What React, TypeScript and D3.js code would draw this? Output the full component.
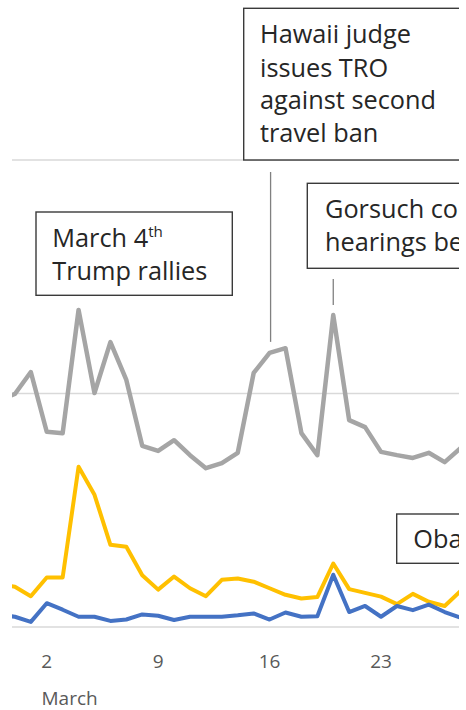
import React from "react";
import * as d3 from "d3";

// Day of March (0 = Feb 28, -1 = Feb 27)
const days = [-1,0,1,2,3,4,5,6,7,8,9,10,11,12,13,14,15,16,17,18,19,20,21,22,23,24,25,26,27,28,29];
const grayValues = [48.6,49.9,54.6,41.8,41.5,67.9,50.1,61.0,52.9,38.8,37.7,40.0,36.8,34.0,35.1,37.3,54.4,58.7,59.7,41.5,36.8,66.8,44.3,42.8,37.5,36.8,36.2,37.3,35.3,38.3,40.0];
const yellowValues = [9.2,8.6,6.6,10.6,10.6,34.3,28.3,17.6,17.2,11.1,8.0,10.8,8.3,6.6,10.1,10.4,9.7,8.3,6.9,6.1,6.4,13.6,8.1,7.3,6.5,4.9,7.1,5.4,4.5,7.7,9.0];
const blueValues = [2.6,2.2,1.1,5.1,3.7,2.2,2.2,1.3,1.6,2.7,2.4,1.5,2.2,2.2,2.2,2.5,2.9,1.6,3.1,2.2,2.3,11.2,3.2,4.5,2.2,4.5,3.6,4.8,3.2,2.0,1.7];
const tickDays = [2, 9, 16, 23];
const gridValues = [0, 50, 100];
const monthLabel = "March";

const FONT = "'Open Sans', 'Noto Sans', sans-serif";

export default function App() {
  const x = d3.scaleLinear().domain([0, 28]).range([14.9, 460.6]);
  const y = d3.scaleLinear().domain([0, 100]).range([627, 160]);
  const line = (vals: number[]) =>
    d3.line<number>().x((_, i) => x(days[i])).y((v) => y(v))(vals) || "";

  const left = 12;
  const right = 459;
  const textColor = "#262626";
  const boxStroke = "#3a3a3a";
  const fs = 25.3;

  const hawaiiDay = 16;
  const gorsuchDay = 20;
  const gi = (d: number) => days.indexOf(d);

  return (
    <svg width={466} height={710} style={{ position: "absolute", left: 0, top: 0, background: "#fff" }} fontFamily={FONT}>
      <defs>
        <clipPath id="plotClip">
          <rect x={left} y={0} width={right - left} height={710} />
        </clipPath>
      </defs>
      <g clipPath="url(#plotClip)">
        {gridValues.map((g) => (
          <line key={g} x1={left} x2={right} y1={y(g)} y2={y(g)} stroke="#d9d9d9" strokeWidth={1.5} />
        ))}
        <path d={line(grayValues)} fill="none" stroke="#a5a5a5" strokeWidth={4.5} strokeLinejoin="round" />
        <path d={line(yellowValues)} fill="none" stroke="#ffc000" strokeWidth={4} strokeLinejoin="round" />
        <path d={line(blueValues)} fill="none" stroke="#4472c4" strokeWidth={4} strokeLinejoin="round" />

        {/* leader lines */}
        <line x1={x(hawaiiDay) + 1} x2={x(hawaiiDay) + 1} y1={172} y2={y(grayValues[gi(hawaiiDay)]) - 11} stroke="#808080" strokeWidth={1.3} />
        <line x1={x(gorsuchDay)} x2={x(gorsuchDay)} y1={279} y2={y(grayValues[gi(gorsuchDay)]) - 10} stroke="#808080" strokeWidth={1.3} />

        {/* Hawaii box */}
        <rect x={243.7} y={8.3} width={300} height={151.7} fill="#fff" stroke={boxStroke} strokeWidth={1.4} />
        <text x={260} fontSize={fs} fill={textColor}>
          <tspan x={260} y={43.3}>Hawaii judge</tspan>
          <tspan x={260} y={76.5}>issues TRO</tspan>
          <tspan x={260} y={109.3}>against second</tspan>
          <tspan x={260} y={141.7}>travel ban</tspan>
        </text>

        {/* Gorsuch box */}
        <rect x={307.3} y={183.3} width={300} height={85} fill="#fff" stroke={boxStroke} strokeWidth={1.4} />
        <text fontSize={fs} fill={textColor}>
          <tspan x={325} y={218.3}>Gorsuch confirmation</tspan>
          <tspan x={325} y={250.7}>hearings begin</tspan>
        </text>

        {/* March 4th box */}
        <rect x={36} y={212} width={196.3} height={83.3} fill="#fff" stroke={boxStroke} strokeWidth={1.4} />
        <text fontSize={fs} fill={textColor}>
          <tspan x={52.3} y={246.7}>March 4</tspan>
          <tspan fontSize={fs * 0.6} dy={-9.5}>th</tspan>
          <tspan x={52.3} y={280}>Trump rallies</tspan>
        </text>

        {/* Obama box */}
        <rect x={396.7} y={514} width={300} height={49.3} fill="#fff" stroke={boxStroke} strokeWidth={1.4} />
        <text fontSize={fs} fill={textColor}>
          <tspan x={413.3} y={548.3}>Obama wiretap claims</tspan>
        </text>
      </g>

      {tickDays.map((d) => (
        <text key={d} x={x(d)} y={668.3} textAnchor="middle" fontSize={19} fill="#595959">
          {d}
        </text>
      ))}
      <text x={41.5} y={705} fontSize={19} fill="#595959">{monthLabel}</text>
    </svg>
  );
}
